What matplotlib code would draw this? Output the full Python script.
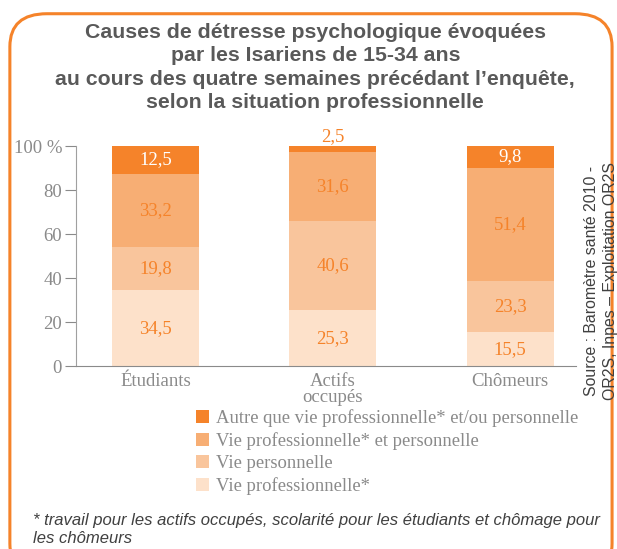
import matplotlib.pyplot as plt
from matplotlib.patches import FancyBboxPatch, Patch

# data
categories = ["Étudiants", "Actifs\noccupés", "Chômeurs"]
vie_pro = [34.5, 25.3, 15.5]
vie_perso = [19.8, 40.6, 23.3]
vie_pro_perso = [33.2, 31.6, 51.4]
autre = [12.5, 2.5, 9.8]

series = [vie_pro, vie_perso, vie_pro_perso, autre]
names = ["Vie professionnelle*", "Vie personnelle",
         "Vie professionnelle* et personnelle",
         "Autre que vie professionnelle* et/ou personnelle"]
colors = ["#FDE1CA", "#F9C59C", "#F7AE74", "#F5832A"]
orange = "#F5832A"
gray = "#8A8A8A"
serif = ["Liberation Serif", "DejaVu Serif"]
sans = ["Liberation Sans", "DejaVu Sans"]

plt.rcParams["font.family"] = serif

fig = plt.figure(figsize=(6.17, 5.49), dpi=100)

# rounded orange frame
frame = FancyBboxPatch((0.016, -0.05), 0.976, 1.025, transform=fig.transFigure,
                       boxstyle="round,pad=0,rounding_size=0.06",
                       fill=False, edgecolor=orange, linewidth=2.2, clip_on=False)
fig.patches.append(frame)

fig.text(0.511, 0.877, "Causes de détresse psychologique évoquées\npar les Isariens de 15-34 ans\n"
         "au cours des quatre semaines précédant l’enquête,\nselon la situation professionnelle",
         ha="center", va="center", fontsize=15.3, fontweight="bold", color="#595959",
         family=sans, linespacing=1.28)

ax = fig.add_axes([0.123, 0.333, 0.81, 0.401])
x = list(range(len(categories)))
bottom = [0, 0, 0]
for vals, col in zip(series, colors):
    ax.bar(x, vals, width=0.49, bottom=bottom, color=col, linewidth=0)
    for i, v in enumerate(vals):
        lab = f"{v:.1f}".replace(".", ",")
        if col == colors[-1]:
            if v < 5:
                ax.text(i, bottom[i] + v + 0.3, lab, ha="center", va="bottom",
                        color=orange, fontsize=13.5)
            else:
                ax.text(i, bottom[i] + v / 2, lab, ha="center", va="center",
                        color="white", fontsize=13.5)
        else:
            ax.text(i, bottom[i] + v / 2, lab, ha="center", va="center",
                    color=orange, fontsize=13.5)
    bottom = [b + v for b, v in zip(bottom, vals)]

ax.set_xlim(-0.45, 2.37)
ax.set_ylim(0, 100)
ax.set_yticks([0, 20, 40, 60, 80, 100])
ax.set_yticklabels(["0", "20", "40", "60", "80", "100 %"], fontsize=13.5, color=gray)
ax.set_xticks(x)
ax.set_xticklabels(categories, fontsize=13.5, color=gray, linespacing=0.95)
ax.tick_params(axis="y", length=8, color=gray, width=0.8, pad=2)
ax.tick_params(axis="x", length=0, pad=5)
for s in ["top", "right"]:
    ax.spines[s].set_visible(False)
ax.spines["left"].set_color("#A0A0A0")
ax.spines["bottom"].set_color(gray)

handles = [Patch(facecolor=c, edgecolor="none") for c in colors[::-1]]
leg = fig.legend(handles, names[::-1], loc="upper left", bbox_to_anchor=(0.318, 0.254),
                 frameon=False, prop={"family": serif, "size": 13.4},
                 handlelength=0.7, handleheight=0.7, handletextpad=0.35,
                 labelspacing=0.26, borderaxespad=0, borderpad=0)
for t in leg.get_texts():
    t.set_color(gray)

fig.text(0.974, 0.488, "Source : Baromètre santé 2010 -\nOR2S, Inpes – Exploitation OR2S",
         rotation=90, ha="center", va="center", fontsize=11.4, color="#404040", family=sans,
         linespacing=1.4)

fig.text(0.053, 0.036, "* travail pour les actifs occupés, scolarité pour les étudiants et chômage pour\nles chômeurs",
         ha="left", va="center", fontsize=12, style="italic", color="#404040", family=sans,
         linespacing=1.24)

fig.savefig("out.png", dpi=100)
